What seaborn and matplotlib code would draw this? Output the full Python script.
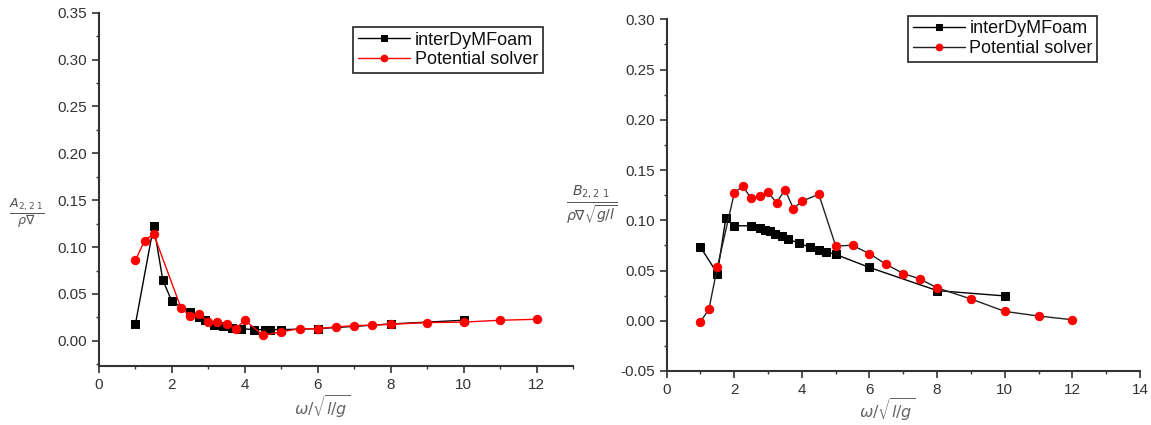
import numpy as np
import pandas as pd
import matplotlib
matplotlib.use('Agg')
import matplotlib.pyplot as plt
import seaborn as sns
from matplotlib.ticker import MultipleLocator

## Datos

# A (izquierda) - interDyMFoam
a_foam_x = [1.0, 1.5, 1.75, 2.0, 2.5, 2.75, 2.9, 3.15, 3.4, 3.65, 3.9, 4.25, 4.55, 4.7, 5.0, 6.0, 8.0, 10.0]
a_foam_y = [0.018, 0.123, 0.065, 0.042, 0.031, 0.025, 0.022, 0.017, 0.0156, 0.014, 0.013, 0.012, 0.012, 0.012, 0.012, 0.013, 0.018, 0.022]
# A (izquierda) - Potential solver
a_pot_x = [1.0, 1.25, 1.5, 2.25, 2.5, 2.75, 3.0, 3.25, 3.5, 3.75, 4.0, 4.5, 5.0, 5.5, 6.0, 6.5, 7.0, 7.5, 8.0, 9.0, 10.0, 11.0, 12.0]
a_pot_y = [0.0858, 0.107, 0.114, 0.035, 0.0266, 0.0284, 0.020, 0.020, 0.0177, 0.013, 0.022, 0.006, 0.0096, 0.013, 0.013, 0.0149, 0.0162, 0.0168, 0.0177, 0.0195, 0.020, 0.022, 0.023]

# B (derecha) - interDyMFoam
b_foam_x = [1.0, 1.5, 1.75, 2.0, 2.5, 2.75, 2.9, 3.05, 3.2, 3.4, 3.6, 3.9, 4.25, 4.5, 4.7, 5.0, 6.0, 8.0, 10.0]
b_foam_y = [0.0733, 0.0470, 0.1020, 0.0945, 0.0945, 0.0920, 0.0907, 0.0893, 0.0867, 0.0840, 0.0813, 0.0773, 0.0730, 0.0700, 0.0687, 0.0660, 0.0530, 0.0300, 0.0247]
# B (derecha) - Potential solver
b_pot_x = [1.0, 1.25, 1.5, 2.0, 2.25, 2.5, 2.75, 3.0, 3.25, 3.5, 3.75, 4.0, 4.5, 5.0, 5.5, 6.0, 6.5, 7.0, 7.5, 8.0, 9.0, 10.0, 11.0, 12.0]
b_pot_y = [-0.001, 0.0115, 0.0533, 0.1270, 0.1340, 0.1217, 0.1243, 0.1280, 0.1173, 0.1305, 0.1115, 0.1190, 0.1258, 0.0745, 0.0750, 0.0667, 0.0560, 0.0470, 0.0415, 0.0327, 0.0217, 0.0093, 0.0047, 0.0010]

legend_labels = ['interDyMFoam', 'Potential solver']

## Estilo
sns.set_style('ticks')
plt.rcParams['font.family'] = ['Liberation Sans', 'DejaVu Sans']
plt.rcParams['mathtext.fontset'] = 'dejavusans'

fig = plt.figure(figsize=(11.51, 4.25), dpi=100)
ax1 = fig.add_axes([0.0860, 0.1395, 0.4118, 0.8306])
ax2 = fig.add_axes([0.5792, 0.1271, 0.4112, 0.8275])

ms_sq = 5.4
ms_ci = 6.0
# Grafico izquierdo
sns.lineplot(x=a_foam_x, y=a_foam_y, ax=ax1, color='black', marker='s', markersize=ms_sq,
             markeredgecolor='black', linewidth=1, label=legend_labels[0])
sns.lineplot(x=a_pot_x, y=a_pot_y, ax=ax1, color='red', marker='o', markersize=ms_ci,
             markeredgecolor='red', linewidth=1, label=legend_labels[1])

# Grafico derecho (linea negra, marcadores rojos)
sns.lineplot(x=b_foam_x, y=b_foam_y, ax=ax2, color='black', marker='s', markersize=ms_sq,
             markeredgecolor='black', linewidth=1, label=legend_labels[0])
sns.lineplot(x=b_pot_x, y=b_pot_y, ax=ax2, color='#222222', marker='o', markersize=ms_ci,
             markerfacecolor='red', markeredgecolor='red', linewidth=1, label=legend_labels[1])

ax1.set_xlim(0, 13)
ax1.set_ylim(-0.0265, 0.35)
ax2.set_xlim(0, 14)
ax2.set_ylim(-0.05, 0.30)

for ax in (ax1, ax2):
    ax.xaxis.set_major_locator(MultipleLocator(2))
    ax.xaxis.set_minor_locator(MultipleLocator(1))
    ax.yaxis.set_major_locator(MultipleLocator(0.05))
    ax.yaxis.set_minor_locator(MultipleLocator(0.025))
    ax.yaxis.set_major_formatter(plt.FormatStrFormatter('%.2f'))
    ax.tick_params(which='major', direction='out', length=5, width=1.2, colors='#333333',
                   labelsize=11, labelcolor='#333333')
    ax.tick_params(which='minor', direction='out', length=2.5, width=1.0, colors='#333333')
    sns.despine(ax=ax)
    for s in ('left', 'bottom'):
        ax.spines[s].set_linewidth(1.5)
        ax.spines[s].set_color('#333333')
    ax.set_xlabel(r'$\omega/\sqrt{l/g}$', fontsize=11.5, color='#666666', va='center')

ax1.xaxis.set_label_coords(0.47, -0.119)
ax2.xaxis.set_label_coords(0.466, -0.111)

ax1.set_ylabel(r'$\frac{A_{2,2\ 1}}{\rho\nabla}$', fontsize=13, color='#555555',
               rotation=0, va='center', ha='center')
ax2.set_ylabel(r'$\frac{B_{2,2\ 1}}{\rho\nabla\sqrt{g/l}}$', fontsize=14.5, color='#555555',
               rotation=0, va='center', ha='center')
ax1.yaxis.set_label_coords(-0.151, 0.43)
ax2.yaxis.set_label_coords(-0.158, 0.474)

leg_kw = dict(fontsize=13, frameon=True, fancybox=False, edgecolor='#222222',
              framealpha=1, handlelength=2.9, handletextpad=0.25, borderpad=0.25,
              labelspacing=0.15, borderaxespad=0, markerscale=0.8, loc='upper right')
l1 = ax1.legend(bbox_to_anchor=(0.936, 0.959), **leg_kw)
l2 = ax2.legend(bbox_to_anchor=(0.91, 1.01), **leg_kw)
for l in (l1, l2):
    l.get_frame().set_linewidth(1.2)
    for t in l.get_texts():
        t.set_color('#111111')

plt.savefig('out.png', dpi=100)
